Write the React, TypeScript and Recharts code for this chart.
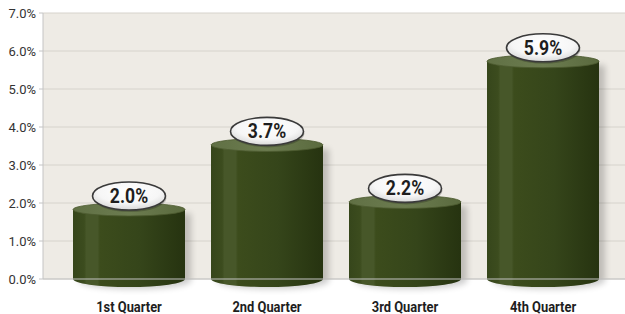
import { Bar, BarChart, CartesianGrid, LabelList, XAxis, YAxis } from "recharts";

const quarters = ["1st Quarter", "2nd Quarter", "3rd Quarter", "4th Quarter"];
const rates = [2.0, 3.7, 2.2, 5.9];
const yTicks = [0, 1, 2, 3, 4, 5, 6, 7];

const data = quarters.map((q, i) => ({ quarter: q, rate: rates[i] }));

const font = "Roboto, 'Liberation Sans', sans-serif";

function Cylinder(props: any) {
  const { x, y, width, height } = props;
  const rx = width / 2;
  const ry = 6.5;
  const cx = x + rx;
  const y0 = y + height;
  const body = `M${x},${y + ry} L${x},${y0} A${rx},8 0 0 0 ${x + width},${y0} L${x + width},${y + ry} Z`;
  const shadow = `M${x + 6},${y + ry + 4} L${x + 6},${y0 + 2} A${rx},8 0 0 0 ${x + width + 6},${y0 + 2} L${x + width + 6},${y + ry + 4} Z`;
  return (
    <g>
      <defs>
        <linearGradient id="cylBody" x1="0" y1="0" x2="1" y2="0">
          <stop offset="0" stopColor="#36461b" />
          <stop offset="0.1" stopColor="#3c4c1e" />
          <stop offset="0.12" stopColor="#475729" />
          <stop offset="0.22" stopColor="#475729" />
          <stop offset="0.24" stopColor="#3c4c1c" />
          <stop offset="0.6" stopColor="#35451a" />
          <stop offset="1" stopColor="#263310" />
        </linearGradient>
        <linearGradient id="cylTop" x1="0" y1="0" x2="1" y2="0">
          <stop offset="0" stopColor="#607044" />
          <stop offset="0.5" stopColor="#6c7c50" />
          <stop offset="1" stopColor="#5a6a3e" />
        </linearGradient>
        <filter id="cylShadow" x="-20%" y="-20%" width="140%" height="140%">
          <feGaussianBlur stdDeviation="3" />
        </filter>
      </defs>
      <path d={shadow} fill="#000" opacity={0.2} filter="url(#cylShadow)" />
      <path d={body} fill="url(#cylBody)" />
      <ellipse cx={cx} cy={y + ry} rx={rx} ry={ry} fill="url(#cylTop)" stroke="#4c5a30" strokeWidth={0.8} />
    </g>
  );
}

function Bubble(props: any) {
  const { x, y, width, value } = props;
  const cx = x + width / 2;
  const cy = y - 7;
  return (
    <g>
      <defs>
        <radialGradient id="bubbleFill" cx="0.5" cy="0.35" r="0.7">
          <stop offset="0" stopColor="#ffffff" />
          <stop offset="0.6" stopColor="#f6f6f6" />
          <stop offset="1" stopColor="#d2d2d2" />
        </radialGradient>
      </defs>
      <ellipse cx={cx + 1} cy={cy + 2} rx={36.5} ry={14} fill="#000" opacity={0.2} />
      <ellipse cx={cx} cy={cy} rx={36.5} ry={14} fill="url(#bubbleFill)" stroke="#3a3a3a" strokeWidth={1.6} />
      <text
        transform={`translate(${cx},${cy + 7}) scale(0.88,1)`}
        textAnchor="middle"
        fontFamily={font}
        fontWeight="bold"
        fontSize={20}
        fill="#1e1e1e"
      >
        {`${Number(value).toFixed(1)}%`}
      </text>
    </g>
  );
}

function QuarterTick(props: any) {
  const { x, y, payload } = props;
  return (
    <text
      transform={`translate(${x},${y + 25}) scale(0.86,1)`}
      textAnchor="middle"
      fontFamily={font}
      fontWeight="bold"
      fontSize={15}
      fill="#1e1e1e"
    >
      {payload.value}
    </text>
  );
}

function RateTick(props: any) {
  const { x, y, payload } = props;
  return (
    <text x={x} y={y + 5} textAnchor="end" fontFamily={font} fontSize={13} fill="#333">
      {`${Number(payload.value).toFixed(1)}%`}
    </text>
  );
}

export default function App() {
  return (
    <div style={{ position: "absolute", left: 0, top: 0, background: "#fff" }}>
      <BarChart width={625} height={314} data={data} margin={{ top: 13, right: 0, left: 0, bottom: 0 }}>
        <CartesianGrid vertical={false} fill="#eeebe5" stroke="#d6d3cc" />
        <XAxis
          dataKey="quarter"
          height={35}
          padding={{ left: 17, right: 13 }}
          axisLine={{ stroke: "#c4c4c4" }}
          tickLine={false}
          tick={<QuarterTick />}
        />
        <YAxis
          width={43}
          domain={[0, 7]}
          ticks={yTicks}
          interval={0}
          axisLine={{ stroke: "#c4c4c4" }}
          tickLine={{ stroke: "#c4c4c4" }}
          tickSize={4}
          tickMargin={3}
          tick={<RateTick />}
        />
        <Bar dataKey="rate" barSize={112} shape={<Cylinder />} isAnimationActive={false}>
          <LabelList dataKey="rate" content={<Bubble />} />
        </Bar>
      </BarChart>
    </div>
  );
}
